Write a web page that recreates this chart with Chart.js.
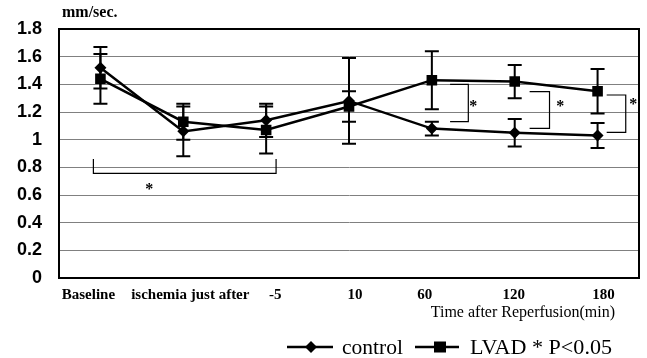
<!DOCTYPE html>
<html><head><meta charset="utf-8">
<script src="https://cdn.jsdelivr.net/npm/chart.js@4/dist/chart.umd.min.js"></script>
<style>html,body{margin:0;padding:0;background:#fff}#wrap{width:647px;height:358px}</style>
</head><body><div id="wrap"><canvas id="c" width="647" height="358"></canvas></div>
<script>
const categories = ['Baseline', 'ischemia just after', '-5', '10', '60', '120', '180'];
const controlMean = [1.52, 1.06, 1.14, 1.28, 1.08, 1.05, 1.03];
const controlSD   = [0.15, 0.18, 0.12, 0.31, 0.05, 0.10, 0.09];
const lvadMean    = [1.44, 1.13, 1.07, 1.24, 1.43, 1.42, 1.35];
const lvadSD      = [0.18, 0.13, 0.17, 0.11, 0.21, 0.12, 0.16];
const yTicks = [0, 0.2, 0.4, 0.6, 0.8, 1, 1.2, 1.4, 1.6, 1.8];
const yUnit = 'mm/sec.';
const xTitle = 'Time after Reperfusion(min)';
const seriesNames = ['control', 'LVAD * P<0.05'];
// label nudges (px) so the category texts sit as in the original
const labelShift = [-12, 7, 9, 6, -7, -1, 6];
// significance brackets: [xFrom, xTo, yTop, yBottom] in category index / value units
const brackets = [[4.22, 4.44, 1.40, 1.13], [5.18, 5.42, 1.347, 1.082], [6.11, 6.34, 1.323, 1.053]];
const bracketStars = [[4.50, 1.26], [5.55, 1.26], [6.43, 1.27]];
const baseBracket = [-0.085, 2.12, 0.757, 0.86];
const baseStar = [0.59, 0.66];

const means = [controlMean, lvadMean];
const sds = [controlSD, lvadSD];

function fitText(ctx, txt, x, y, w) {
  const m = ctx.measureText(txt).width;
  ctx.save();
  ctx.translate(x, y);
  ctx.scale(w / m, 1);
  ctx.fillText(txt, 0, 0);
  ctx.restore();
}

const overlay = {
  id: 'overlay',
  beforeDatasetsDraw(chart) {
    const ctx = chart.ctx, xs = chart.scales.x, ys = chart.scales.y;
    ctx.save();
    ctx.strokeStyle = '#000';
    ctx.lineWidth = 2;
    means.forEach((m, s) => {
      m.forEach((v, i) => {
        const x = xs.getPixelForValue(i);
        const yt = ys.getPixelForValue(v + sds[s][i]);
        const yb = ys.getPixelForValue(v - sds[s][i]);
        ctx.beginPath();
        ctx.moveTo(x, yt); ctx.lineTo(x, yb);
        ctx.moveTo(x - 7, yt); ctx.lineTo(x + 7, yt);
        ctx.moveTo(x - 7, yb); ctx.lineTo(x + 7, yb);
        ctx.stroke();
      });
    });
    ctx.restore();
  },
  afterDraw(chart) {
    const ctx = chart.ctx, xs = chart.scales.x, ys = chart.scales.y, a = chart.chartArea;
    const px = v => xs.getPixelForValue(0) + v * (xs.getPixelForValue(1) - xs.getPixelForValue(0));
    ctx.save();
    // frame top and right
    ctx.strokeStyle = '#000';
    ctx.lineWidth = 2;
    ctx.beginPath();
    ctx.moveTo(a.left, a.top); ctx.lineTo(a.right, a.top); ctx.lineTo(a.right, a.bottom);
    ctx.stroke();
    // brackets
    ctx.lineWidth = 1.2;
    brackets.forEach(b => {
      const x1 = px(b[0]), x2 = px(b[1]), y1 = ys.getPixelForValue(b[2]), y2 = ys.getPixelForValue(b[3]);
      ctx.beginPath();
      ctx.moveTo(x1, y1); ctx.lineTo(x2, y1); ctx.lineTo(x2, y2); ctx.lineTo(x1, y2);
      ctx.stroke();
    });
    {
      const x1 = px(baseBracket[0]), x2 = px(baseBracket[1]);
      const yh = ys.getPixelForValue(baseBracket[2]), yv = ys.getPixelForValue(baseBracket[3]);
      ctx.beginPath();
      ctx.moveTo(x1, yv); ctx.lineTo(x1, yh); ctx.lineTo(x2, yh); ctx.lineTo(x2, yv);
      ctx.stroke();
    }
    ctx.fillStyle = '#000';
    ctx.font = 'bold 16px "Liberation Serif", serif';
    ctx.textAlign = 'center';
    ctx.textBaseline = 'middle';
    bracketStars.concat([baseStar]).forEach(s => {
      ctx.fillText('*', px(s[0]), ys.getPixelForValue(s[1]) + 3);
    });
    // category labels
    ctx.font = 'bold 15px "Liberation Serif", serif';
    categories.forEach((c, i) => {
      ctx.fillText(c, xs.getPixelForValue(i) + labelShift[i], a.bottom + 17);
    });
    // unit label
    ctx.font = 'bold 16px "Liberation Serif", serif';
    ctx.textAlign = 'left';
    ctx.fillText(yUnit, 62, 13);
    // x title
    ctx.font = '16px "Liberation Serif", serif';
    ctx.textAlign = 'right';
    ctx.fillText(xTitle, 615, 313);
    // legend
    const ly = 347;
    ctx.lineWidth = 2.5;
    ctx.beginPath(); ctx.moveTo(287, ly); ctx.lineTo(333, ly); ctx.stroke();
    ctx.beginPath(); ctx.moveTo(311, ly - 6); ctx.lineTo(317, ly); ctx.lineTo(311, ly + 6); ctx.lineTo(305, ly); ctx.closePath(); ctx.fill();
    ctx.beginPath(); ctx.moveTo(415, ly); ctx.lineTo(459, ly); ctx.stroke();
    ctx.fillRect(434, ly - 5.5, 12, 11);
    ctx.textAlign = 'left';
    ctx.font = '21px "Liberation Serif", serif';
    fitText(ctx, seriesNames[0], 342, ly + 1, 61);
    fitText(ctx, seriesNames[1], 470, ly + 1, 142);
    ctx.restore();
  }
};

new Chart(document.getElementById('c'), {
  type: 'line',
  data: {
    labels: categories,
    datasets: [
      { label: seriesNames[0], data: controlMean, borderColor: '#000', backgroundColor: '#000', borderWidth: 2.5,
        pointStyle: 'rectRot', pointRadius: 6, pointBorderWidth: 0, tension: 0 },
      { label: seriesNames[1], data: lvadMean, borderColor: '#000', backgroundColor: '#000', borderWidth: 2.5,
        pointStyle: 'rect', pointRadius: 7.5, pointBorderWidth: 0, tension: 0 }
    ]
  },
  options: {
    responsive: false,
    devicePixelRatio: 1,
    animation: false,
    layout: { padding: { left: 0, right: 8, top: 29, bottom: 0 } },
    plugins: { legend: { display: false }, tooltip: { enabled: false } },
    scales: {
      x: {
        offset: true,
        grid: { display: false, drawTicks: false },
        border: { color: '#000', width: 2 },
        ticks: { display: false, autoSkip: false },
        afterFit(s) { s.height = 80; }
      },
      y: {
        min: 0, max: 1.8,
        afterBuildTicks(s) { s.ticks = yTicks.map(v => ({ value: v })); },
        grid: { color: ctx => (ctx.tick && (ctx.tick.value === 0 || ctx.tick.value === 1.8)) ? '#000' : '#808080',
                lineWidth: 1, drawTicks: false },
        border: { color: '#000', width: 2 },
        ticks: { color: '#000', font: { family: '"Liberation Sans", Arial, sans-serif', size: 18, weight: 'bold' },
                 padding: 17, callback: v => String(+(+v).toFixed(1)) },
        afterFit(s) { s.width = 59; }
      }
    }
  },
  plugins: [overlay]
});
</script>
</body></html>
